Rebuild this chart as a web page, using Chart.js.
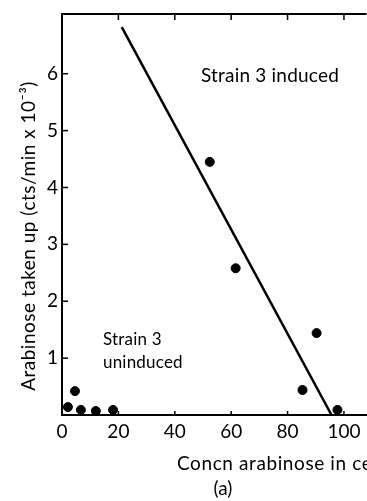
<!DOCTYPE html>
<html>
<head>
<meta charset="utf-8">
<script src="https://cdn.jsdelivr.net/npm/chart.js@4"></script>
<style>
    html, body { margin: 0; padding: 0; background: #fff; overflow: hidden; }
    #wrap { width: 367px; height: 501px; overflow: hidden; }
</style>
</head>
<body>
<div id="wrap"><canvas id="chart" width="372" height="501"></canvas></div>
<script>
// Values
const xTicks = [0, 20, 40, 60, 80, 100];
const yTicks = [1, 2, 3, 4, 5, 6];

const uninducedX = [2.1, 4.6, 6.7, 12.0, 18.1];
const uninducedY = [0.14, 0.42, 0.09, 0.07, 0.09];

const inducedX = [52.4, 61.6, 85.3, 90.3, 97.7];
const inducedY = [4.45, 2.58, 0.44, 1.44, 0.09];

const lineX = [21.2, 95.6];
const lineY = [6.82, 0];

const xTitle = 'Concn arabinose in ce';
const yTitle = 'Arabinose taken up (cts/min x 10⁻³)';
const panelLabel = '(a)';
const notes = ['Strain 3 induced', 'Strain 3', 'uninduced'];

const FONT = 'Lato, "DejaVu Sans", sans-serif';

function toPoints(xs, ys) {
    return xs.map((v, i) => ({ x: v, y: ys[i] }));
}

// top border, inward ticks and the texts
const extras = {
    id: 'extras',
    afterDraw(chart) {
        const { ctx, chartArea } = chart;
        const sx = chart.scales.x;
        const sy = chart.scales.y;
        ctx.save();
        ctx.strokeStyle = '#000';
        ctx.lineWidth = 2;
        ctx.beginPath();
        ctx.moveTo(chartArea.left - 1, chartArea.top);
        ctx.lineTo(chartArea.right, chartArea.top);
        ctx.stroke();

        ctx.lineWidth = 1.5;
        xTicks.slice(1).forEach(v => {
            const px = sx.getPixelForValue(v);
            ctx.beginPath();
            ctx.moveTo(px, chartArea.bottom);
            ctx.lineTo(px, chartArea.bottom - 4);
            ctx.moveTo(px, chartArea.top);
            ctx.lineTo(px, chartArea.top + 6);
            ctx.stroke();
        });
        yTicks.forEach(v => {
            const py = sy.getPixelForValue(v);
            ctx.beginPath();
            ctx.moveTo(chartArea.left, py);
            ctx.lineTo(chartArea.left + 6, py);
            ctx.stroke();
        });

        ctx.fillStyle = '#000';
        ctx.textBaseline = 'alphabetic';
        ctx.textAlign = 'left';
        ctx.letterSpacing = '0.2px';
        ctx.font = '19px ' + FONT;
        ctx.fillText(notes[0], 201, 82);
        ctx.font = '17px ' + FONT;
        ctx.fillText(notes[1], 103, 345);
        ctx.fillText(notes[2], 103, 368);

        ctx.letterSpacing = '0.6px';
        ctx.font = '19px ' + FONT;
        ctx.fillText(xTitle, 177, 470);
        ctx.letterSpacing = '0px';
        ctx.textAlign = 'center';
        ctx.fillText(panelLabel, 223, 495);

        ctx.letterSpacing = '0.5px';
        ctx.translate(29, 236);
        ctx.rotate(-Math.PI / 2);
        ctx.textBaseline = 'middle';
        ctx.fillText(yTitle, 0, 0);
        ctx.restore();
    }
};

const ctx = document.getElementById('chart').getContext('2d');

new Chart(ctx, {
    type: 'scatter',
    data: {
        datasets: [
            {
                label: 'Strain 3 uninduced',
                data: toPoints(uninducedX, uninducedY),
                backgroundColor: '#000',
                borderColor: '#000',
                pointRadius: 4.5
            },
            {
                label: 'Strain 3 induced',
                data: toPoints(inducedX, inducedY),
                backgroundColor: '#000',
                borderColor: '#000',
                pointRadius: 4.5
            },
            {
                label: 'fit',
                data: toPoints(lineX, lineY),
                showLine: true,
                borderColor: '#000',
                borderWidth: 2.5,
                pointRadius: 0,
                fill: false
            }
        ]
    },
    options: {
        responsive: false,
        animation: false,
        layout: { padding: { top: 14, right: 0, left: 0, bottom: 0 } },
        plugins: {
            legend: { display: false },
            tooltip: { enabled: false }
        },
        scales: {
            x: {
                type: 'linear',
                min: 0,
                max: 108,
                afterBuildTicks: scale => { scale.ticks = xTicks.map(v => ({ value: v })); },
                afterFit: scale => {
                    scale.height = 86;
                    scale.paddingLeft = 0;
                    scale.paddingRight = 0;
                },
                grid: { display: false, drawTicks: false },
                border: { display: true, color: '#000', width: 2 },
                ticks: { color: '#000', padding: 5, maxRotation: 0, font: { family: FONT, size: 19 } }
            },
            y: {
                type: 'linear',
                min: 0,
                max: 7.05,
                afterBuildTicks: scale => { scale.ticks = yTicks.map(v => ({ value: v })); },
                afterFit: scale => {
                    scale.width = 62;
                    scale.paddingTop = 0;
                    scale.paddingBottom = 0;
                },
                grid: { display: false, drawTicks: false },
                border: { display: true, color: '#000', width: 2 },
                ticks: { color: '#000', padding: 4, font: { family: FONT, size: 19 } }
            }
        }
    },
    plugins: [extras]
});
</script>
</body>
</html>
